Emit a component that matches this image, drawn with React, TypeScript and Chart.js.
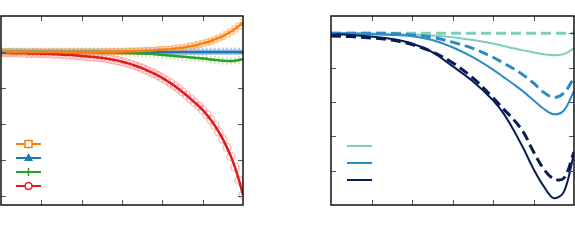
import React, { useEffect, useRef } from "react";
import { Chart, registerables } from "chart.js";

Chart.register(...registerables);

// ---------- Left panel data ----------
const LX = [
  0, 0.1, 0.2, 0.3, 0.4, 0.5, 0.6, 0.7, 0.8, 0.9,
  1.0, 1.1, 1.2, 1.3, 1.4, 1.5, 1.6, 1.7, 1.8, 1.9,
  2.0, 2.1, 2.2, 2.3, 2.4, 2.5, 2.6, 2.7, 2.8, 2.9,
  3.0, 3.1, 3.2, 3.3, 3.4, 3.5, 3.6, 3.7, 3.8, 3.9,
  4.0, 4.1, 4.2, 4.3, 4.4, 4.5, 4.6, 4.7, 4.8, 4.9,
  5.0, 5.1, 5.2, 5.3, 5.4, 5.5, 5.6, 5.7, 5.8, 5.9,
  6.0,
];
const orangeY = [
  0, 0, 0, 0, 0, 0, 0, 0, 0, 0,
  0, 0, 0, 0, 0, 0, 0, 0, 0, 0,
  0, 0, 0, 0, 0, 0, 0.01, 0.01, 0.01, 0.01,
  0.01, 0.02, 0.02, 0.02, 0.03, 0.03, 0.04, 0.04, 0.05, 0.06,
  0.07, 0.07, 0.08, 0.1, 0.11, 0.12, 0.14, 0.16, 0.18, 0.21,
  0.24, 0.27, 0.3, 0.35, 0.39, 0.44, 0.5, 0.57, 0.64, 0.72,
  0.82,
];
const blueY = [
  0, 0, 0, 0, 0, 0, 0, 0, 0, 0,
  0, 0, 0, 0, 0, 0, 0, 0, 0, 0,
  0, 0, 0, 0, 0, 0, 0, 0, 0, 0,
  0, 0, 0, 0, 0, 0, 0, 0, 0, 0,
  0, 0, 0, 0, 0, 0, 0, 0, 0, 0,
  0, 0, 0, 0, 0, 0, 0, 0, 0, 0,
  0,
];
const greenY = [
  0, 0, 0, 0, 0, 0, 0, 0, 0, 0,
  0, 0, 0, 0, 0, 0, 0, 0, 0, 0,
  0, 0, 0, 0, 0, -0.01, -0.01, -0.01, -0.01, -0.02,
  -0.02, -0.02, -0.03, -0.03, -0.04, -0.04, -0.05, -0.05, -0.06, -0.07,
  -0.08, -0.09, -0.1, -0.11, -0.12, -0.13, -0.14, -0.15, -0.16, -0.17,
  -0.18, -0.19, -0.21, -0.22, -0.23, -0.24, -0.25, -0.25, -0.24, -0.22,
  -0.2,
];
const redY = [
  -0.02, -0.02, -0.02, -0.03, -0.03, -0.03, -0.03, -0.04, -0.04, -0.04,
  -0.05, -0.05, -0.05, -0.06, -0.06, -0.07, -0.08, -0.08, -0.09, -0.1,
  -0.11, -0.12, -0.13, -0.14, -0.15, -0.16, -0.18, -0.2, -0.22, -0.24,
  -0.27, -0.3, -0.33, -0.37, -0.41, -0.45, -0.5, -0.55, -0.6, -0.66,
  -0.72, -0.79, -0.86, -0.94, -1.02, -1.11, -1.2, -1.3, -1.4, -1.5,
  -1.61, -1.74, -1.88, -2.04, -2.22, -2.42, -2.65, -2.9, -3.2, -3.56,
  -3.97,
];
const LEFT_X_TICKS = [1, 2, 3, 4, 5];
const LEFT_Y_TICKS = [0, -1, -2, -3, -4];

// ---------- Right panel data ----------
const RX = [0, 0.5, 1, 1.5, 2, 2.5, 3, 3.5, 4, 4.25, 4.5, 4.75, 5, 5.25, 5.5, 5.75, 6];
const tealDashY = [0, 0, 0, 0, 0, 0, 0, 0, 0, 0, 0, 0, 0, 0, 0, 0, 0];
const tealSolidY = [0, 0, -0.01, -0.02, -0.04, -0.07, -0.12, -0.2, -0.3, -0.37, -0.44, -0.5, -0.56, -0.61, -0.64, -0.61, -0.44];
const blueDashY = [0, 0, 0, -0.01, -0.05, -0.12, -0.26, -0.44, -0.7, -0.86, -1.03, -1.22, -1.45, -1.72, -1.87, -1.74, -1.3];
const blueSolidY = [0, -0.01, -0.03, -0.05, -0.09, -0.2, -0.41, -0.7, -1.06, -1.27, -1.48, -1.7, -1.95, -2.2, -2.36, -2.25, -1.68];
const navyDashY = [-0.08, -0.1, -0.14, -0.2, -0.33, -0.54, -0.86, -1.3, -1.88, -2.2, -2.5, -2.88, -3.45, -3.95, -4.24, -4.22, -3.46];
const navySolidY = [-0.02, -0.05, -0.1, -0.17, -0.3, -0.55, -0.96, -1.4, -1.95, -2.32, -2.8, -3.35, -3.95, -4.45, -4.8, -4.62, -3.5];
const RIGHT_X_TICKS = [1, 2, 3, 4, 5];
const RIGHT_Y_TICKS = [0, -1, -2, -3, -4];

const C = {
  orange: "#ff7f0e",
  orangeL: "rgba(255,165,80,0.6)",
  blue: "#1f77b4",
  blueL: "rgba(140,185,230,0.65)",
  green: "#2ca02c",
  greenL: "rgba(160,215,110,0.65)",
  red: "#e31a1c",
  redL: "rgba(250,130,140,0.6)",
  teal: "#7fcdbb",
  mid: "#2b8cc4",
  navy: "#081d58",
};

const pts = (xs: number[], ys: number[]) => xs.map((x, i) => ({ x, y: ys[i] }));

// frame + inward ticks plugin
const framePlugin = {
  id: "frameTicks",
  afterDatasetsDraw(chart: any, _args: any, opts: any) {
    const { ctx, chartArea: a, scales } = chart;
    ctx.save();
    ctx.strokeStyle = "#555";
    ctx.lineWidth = 1;
    const L = 5;
    (opts.xTicks || []).forEach((v: number) => {
      const px = Math.round(scales.x.getPixelForValue(v)) + 0.5;
      ctx.beginPath();
      ctx.moveTo(px, a.bottom);
      ctx.lineTo(px, a.bottom - L);
      ctx.moveTo(px, a.top);
      ctx.lineTo(px, a.top + L);
      ctx.stroke();
    });
    (opts.yTicks || []).forEach((v: number) => {
      const py = Math.round(scales.y.getPixelForValue(v)) + 0.5;
      ctx.beginPath();
      ctx.moveTo(a.left, py);
      ctx.lineTo(a.left + L, py);
      ctx.moveTo(a.right, py);
      ctx.lineTo(a.right - L, py);
      ctx.stroke();
    });
    ctx.strokeStyle = "#111";
    ctx.lineWidth = 1.5;
    ctx.strokeRect(a.left, a.top, a.right - a.left, a.bottom - a.top);
    ctx.restore();
  },
};

// legend drawn inside the plot area (no text in the reference)
const insideLegend = {
  id: "insideLegend",
  afterDatasetsDraw(chart: any, _args: any, opts: any) {
    const items = opts.items || [];
    if (!items.length) return;
    const { ctx, chartArea: a } = chart;
    ctx.save();
    items.forEach((it: any, i: number) => {
      const y = a.top + opts.y0 + i * opts.dy;
      const x0 = a.left + opts.x0;
      const x1 = x0 + opts.w;
      const cx = (x0 + x1) / 2;
      ctx.strokeStyle = it.color;
      ctx.fillStyle = it.color;
      ctx.lineWidth = 2;
      ctx.setLineDash([]);
      ctx.beginPath();
      ctx.moveTo(x0, y);
      ctx.lineTo(x1, y);
      ctx.stroke();
      ctx.lineWidth = 1.5;
      if (it.marker === "rect") {
        ctx.fillStyle = "#fff";
        ctx.fillRect(cx - 3.5, y - 3.5, 7, 7);
        ctx.strokeRect(cx - 3.5, y - 3.5, 7, 7);
      } else if (it.marker === "triangle") {
        ctx.beginPath();
        ctx.moveTo(cx, y - 5);
        ctx.lineTo(cx + 4.5, y + 3);
        ctx.lineTo(cx - 4.5, y + 3);
        ctx.closePath();
        ctx.fill();
      } else if (it.marker === "cross") {
        ctx.beginPath();
        ctx.moveTo(cx, y - 4);
        ctx.lineTo(cx, y + 4);
        ctx.stroke();
      } else if (it.marker === "circle") {
        ctx.fillStyle = "#fff";
        ctx.beginPath();
        ctx.arc(cx, y, 3.5, 0, Math.PI * 2);
        ctx.fill();
        ctx.stroke();
      }
    });
    ctx.restore();
  },
};

function useChart(ref: React.RefObject<HTMLCanvasElement>, make: () => any) {
  useEffect(() => {
    if (!ref.current) return;
    const chart = new Chart(ref.current, make());
    return () => chart.destroy();
  }, []);
}

const commonScales = (ymin: number, ymax: number) => ({
  x: { type: "linear" as const, min: 0, max: 6, display: false },
  y: { type: "linear" as const, min: ymin, max: ymax, display: false },
});

export default function App() {
  const leftRef = useRef<HTMLCanvasElement>(null);
  const rightRef = useRef<HTMLCanvasElement>(null);

  useChart(leftRef, () => {
    const markerDs = (ys: number[], color: string, style: string) => ({
      data: pts(LX, ys),
      showLine: false,
      pointStyle: style,
      pointRadius: 4,
      pointBorderWidth: 1.3,
      pointBorderColor: color,
      pointBackgroundColor: style === "triangle" ? color : "rgba(0,0,0,0)",
      order: 2,
    });
    const lineDs = (ys: number[], color: string) => ({
      data: pts(LX, ys),
      showLine: true,
      borderColor: color,
      borderWidth: 2.5,
      pointRadius: 0,
      tension: 0.3,
      order: 1,
    });
    return {
      type: "scatter",
      data: {
        datasets: [
          markerDs(orangeY, C.orangeL, "rect"),
          markerDs(blueY, C.blueL, "triangle"),
          markerDs(greenY, C.greenL, "cross"),
          markerDs(redY, C.redL, "circle"),
          lineDs(orangeY, C.orange),
          lineDs(greenY, C.green),
          lineDs(blueY, C.blue),
          lineDs(redY, C.red),
        ],
      },
      options: {
        responsive: false,
        animation: false,
        layout: { autoPadding: false, padding: { left: 1, right: 7, top: 16, bottom: 45 } },
        scales: commonScales(-4.25, 1),
        plugins: {
          legend: { display: false },
          tooltip: { enabled: false },
          frameTicks: { xTicks: LEFT_X_TICKS, yTicks: LEFT_Y_TICKS },
          insideLegend: {
            x0: 15,
            w: 25,
            y0: 128,
            dy: 14,
            items: [
              { color: C.orange, marker: "rect" },
              { color: C.blue, marker: "triangle" },
              { color: C.green, marker: "cross" },
              { color: C.red, marker: "circle" },
            ],
          },
        },
      },
      plugins: [framePlugin, insideLegend],
    };
  });

  useChart(rightRef, () => {
    const ds = (ys: number[], color: string, dashed: boolean) => ({
      data: pts(RX, ys),
      showLine: true,
      borderColor: color,
      borderWidth: dashed ? 3 : 2,
      borderDash: dashed ? [10, 5] : [],
      pointRadius: 0,
      tension: 0.35,
    });
    return {
      type: "scatter",
      data: {
        datasets: [
          ds(navySolidY, C.navy, false),
          ds(navyDashY, C.navy, true),
          ds(blueSolidY, C.mid, false),
          ds(blueDashY, C.mid, true),
          ds(tealSolidY, C.teal, false),
          ds(tealDashY, C.teal, true),
        ],
      },
      options: {
        responsive: false,
        animation: false,
        layout: { autoPadding: false, padding: { left: 6, right: 1, top: 16, bottom: 45 } },
        scales: commonScales(-5, 0.5),
        plugins: {
          legend: { display: false },
          tooltip: { enabled: false },
          frameTicks: { xTicks: RIGHT_X_TICKS, yTicks: RIGHT_Y_TICKS },
          insideLegend: {
            x0: 16,
            w: 25,
            y0: 130,
            dy: 17,
            items: [
              { color: C.teal, marker: "none" },
              { color: C.mid, marker: "none" },
              { color: C.navy, marker: "none" },
            ],
          },
        },
      },
      plugins: [framePlugin, insideLegend],
    };
  });

  return (
    <div style={{ position: "absolute", left: 0, top: 0, width: 575, height: 250, background: "#fff" }}>
      <canvas ref={leftRef} width={250} height={250} style={{ position: "absolute", left: 0, top: 0, width: 250, height: 250 }} />
      <canvas ref={rightRef} width={250} height={250} style={{ position: "absolute", left: 325, top: 0, width: 250, height: 250 }} />
    </div>
  );
}
